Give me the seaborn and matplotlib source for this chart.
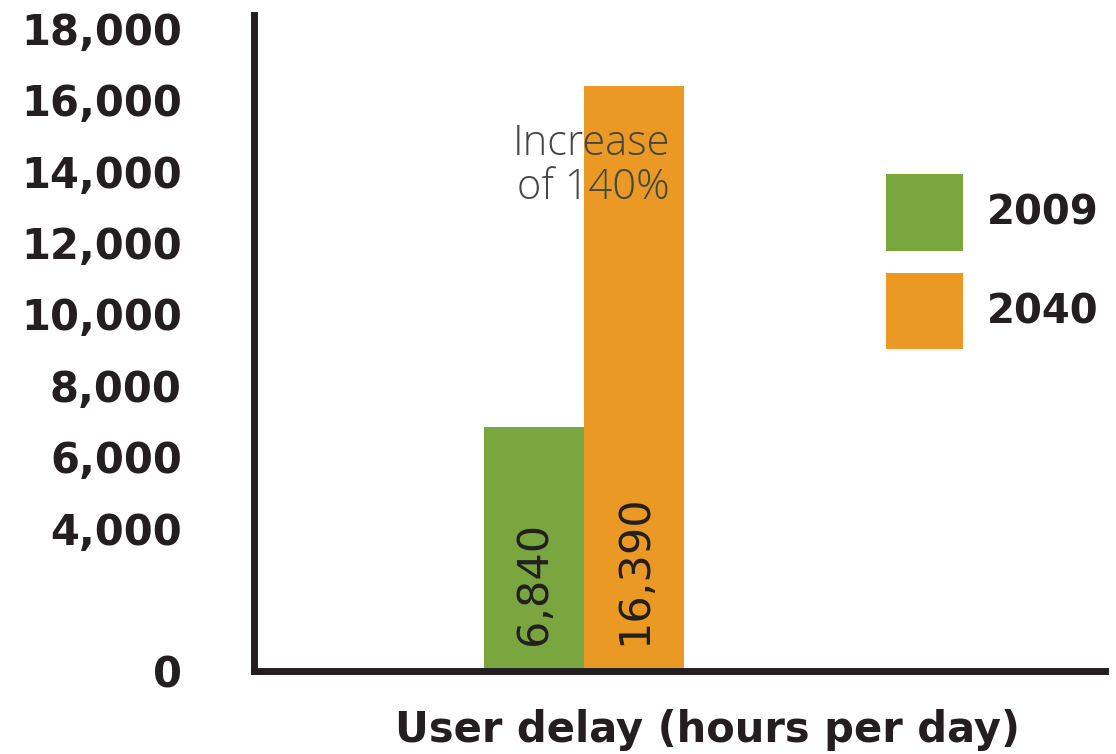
import matplotlib
matplotlib.use("Agg")
import matplotlib.pyplot as plt
import seaborn as sns
import pandas as pd

# ---- data ----
metric = ["User delay (hours per day)"]
years = ["2009", "2040"]
values = [6840, 16390]
tick_values = [0, 4000, 6000, 8000, 10000, 12000, 14000, 16000, 18000]
tick_labels = ["0", "4,000", "6,000", "8,000", "10,000", "12,000", "14,000", "16,000", "18,000"]
value_labels = ["6,840", "16,390"]
annotation = "Increase\nof 140%"
colors = {"2009": "#7AA640", "2040": "#E99924"}

df = pd.DataFrame({"metric": metric * len(years), "year": years, "value": values})

sns.set_theme(style="white")
plt.rcParams["font.family"] = ["DejaVu Sans"]

fig = plt.figure(figsize=(11.16, 7.54), dpi=100)
W, H = 1116, 754
ax = fig.add_axes([254 / W, 1 - 671 / H, (1105 - 254) / W, (671 - 15) / H])

sns.barplot(data=df, x="metric", y="value", hue="year", palette=colors,
            width=0.8, saturation=1, linewidth=0, ax=ax, legend=True)

ax.set_xlim(-1.32, 2.084)
ax.set_ylim(0, 18370)

for s in ["top", "right"]:
    ax.spines[s].set_visible(False)
for s in ["left", "bottom"]:
    ax.spines[s].set_linewidth(5)
    ax.spines[s].set_color("#231f20")
    ax.spines[s].set_capstyle("projecting")

ax.set_yticks(tick_values)
ax.set_yticklabels(tick_labels)
ax.tick_params(axis="y", length=0, pad=52, labelsize=30, labelcolor="#231f20")
for t in ax.get_yticklabels():
    t.set_fontweight("bold")
ax.set_xticks([])
ax.set_ylabel("")
ax.set_xlabel(metric[0], fontsize=30, fontweight="bold", color="#231f20")
ax.xaxis.set_label_coords(0.533, -0.09)
ax.xaxis.label.set_va("center")

# value labels inside bars
bars = [p for c in ax.containers for p in c]
for p, lab in zip(bars, value_labels):
    ax.text(p.get_x() + p.get_width() / 2, 0.04, lab, rotation=90,
            ha="center", va="bottom", fontsize=31, color="#231f20",
            transform=ax.get_xaxis_transform())

# annotation
ax.text(0.344, 0.77, annotation, ha="right", va="center", multialignment="right",
        fontsize=30, color="#454545", fontfamily=["Open Sans", "DejaVu Sans"],
        fontweight="light", linespacing=1.05, transform=ax.get_xaxis_transform())

# legend
leg = ax.legend(loc="upper left", bbox_to_anchor=(886 / W, 1 - 174 / H),
                bbox_transform=fig.transFigure, frameon=False,
                fontsize=29, handlelength=1.9, handleheight=2.55,
                labelspacing=0.55, handletextpad=0.6, borderaxespad=0,
                borderpad=0, title=None)
for t in leg.get_texts():
    t.set_fontweight("bold")
    t.set_color("#231f20")

fig.savefig("out.png", dpi=100)
